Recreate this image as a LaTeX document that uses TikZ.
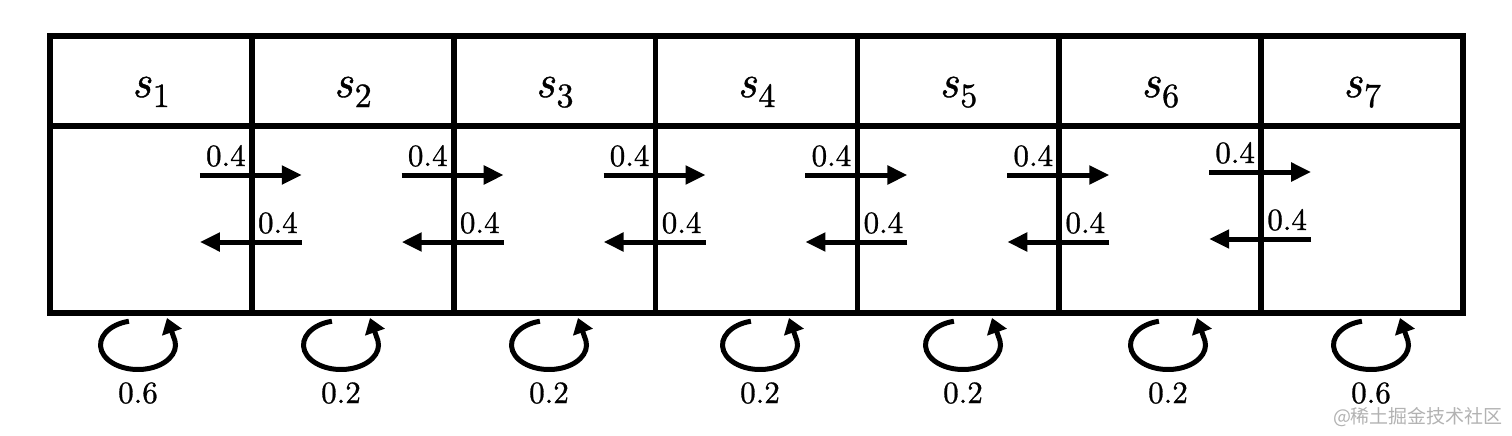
\documentclass[tikz,border=0pt]{standalone}
\usepackage{fontspec}
\setmainfont{lmroman10-regular.otf}[ItalicFont=lmroman10-italic.otf, FakeBold=0.9]
\usetikzlibrary{arrows.meta}
\newfontfamily\cjkwm{Noto Sans CJK SC}
\begin{document}
\begin{tikzpicture}[x=0.5pt,y=-0.5pt,
  gridline/.style={line width=2.9pt, line join=miter},
  trans/.style={line width=2.5pt, -{Triangle[length=10pt,width=9pt]}},
  selfloop/.style={line width=2.5pt, line cap=butt, -{Triangle[length=7.5pt,width=10pt]}},
  prob/.style={font=\fontsize{15.5}{18}\selectfont, inner sep=0pt, anchor=base},
  statelbl/.style={font=\fontsize{23}{26}\selectfont, inner sep=0pt, anchor=base},
  wmark/.style={font=\cjkwm\fontsize{9.5}{11}\selectfont, text=black!30, inner sep=0pt}]
\useasboundingbox (0,0) rectangle (1512,435);
% grid
\draw[gridline] (50,36) rectangle (1463,313);
\draw[gridline] (50,126) -- (1463,126);
\foreach \i in {1,...,6} {
  \draw[gridline] ({50+201.86*\i},36) -- ({50+201.86*\i},313);
}
% state labels
\foreach \i in {1,...,7} {
  \node[statelbl] (s\i) at ({50+201.86*(\i-0.5)},97)
    {\itshape s\kern1pt\raisebox{-5pt}{\upshape\fontsize{17}{20}\selectfont\i}};
}
% transitions between neighbours
\foreach \i in {1,...,6} {
  \pgfmathsetmacro{\xd}{50+201.86*\i}
  \pgfmathsetmacro{\dy}{ifthenelse(\i==6,-3,0)}
  \coordinate (ra\i) at ({\xd-52},{175+\dy});
  \coordinate (rb\i) at ({\xd+50},{175+\dy});
  \coordinate (la\i) at ({\xd+50},{242+\dy});
  \coordinate (lb\i) at ({\xd-52},{242+\dy});
  \draw[trans] (ra\i) -- (rb\i);
  \draw[trans] (la\i) -- (lb\i);
  \node[prob] (pr\i) at ({\xd-26},{166+\dy}) {0.4};
  \node[prob] (pl\i) at ({\xd+26},{233+\dy}) {0.4};
}
% self loops
\foreach \i/\cx/\p in {1/138/0.6, 2/341/0.2, 3/549/0.2, 4/760/0.2, 5/963/0.2, 6/1168/0.2, 7/1371/0.6} {
  \coordinate (lc\i) at (\cx,345);
  \draw[selfloop] ([shift={(lc\i)}]256:37.5 and 24.5)
     arc[start angle=256, end angle=-10, x radius=37.5, y radius=24.5]
     -- ([shift={(lc\i)}]29,-27);
  \node[prob] (lp\i) at (\cx,403) {\p};
}
% watermark
\node[wmark] (wm) at (1418,417) {@稀土掘金技术社区};
\end{tikzpicture}
\end{document}
